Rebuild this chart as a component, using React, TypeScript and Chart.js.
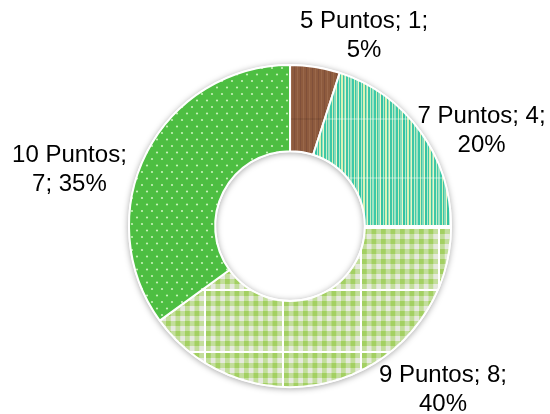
import React, { useEffect, useRef } from "react";
import { Chart, registerables } from "chart.js";

Chart.register(...registerables);

// ---- data ----
const categories = ["5 Puntos", "7 Puntos", "9 Puntos", "10 Puntos"];
const counts = [1, 4, 8, 7];
// how many label tokens ("name;", "count;", "pct%") go on the first line
const firstLineTokens = [2, 2, 2, 1];

// ---- style / layout ----
// label block centre relative to the doughnut centre, in units of outer radius
const LABEL_POS: [number, number][] = [
  [0.46, -1.18],
  [1.19, -0.59],
  [0.95, 1.02],
  [-1.37, -0.35],
];
const FONT = '24px "Liberation Sans", Arial, sans-serif';
const LINE_H = 29;

function makePattern(
  ctx: CanvasRenderingContext2D,
  w: number,
  h: number,
  draw: (g: CanvasRenderingContext2D) => void,
  ox = 0,
  oy = 0
): CanvasPattern | string {
  const c = document.createElement("canvas");
  c.width = w;
  c.height = h;
  const g = c.getContext("2d")!;
  draw(g);
  const p = ctx.createPattern(c, "repeat");
  if (!p) return "#888";
  try {
    p.setTransform(new DOMMatrix().translate(ox, oy));
  } catch (e) {}
  return p;
}

function brownPattern(ctx: CanvasRenderingContext2D) {
  return makePattern(ctx, 6, 59, (g) => {
    g.fillStyle = "#8e5b3e";
    g.fillRect(0, 0, 6, 59);
    g.fillStyle = "#80503a";
    g.fillRect(0, 0, 1, 59);
    g.fillStyle = "#9a684b";
    g.fillRect(3, 0, 1, 59);
    g.fillStyle = "rgba(0,0,0,0.07)";
    g.fillRect(0, 0, 6, 2);
  });
}

function tealPattern(ctx: CanvasRenderingContext2D) {
  const seq: [string, number][] = [
    ["#3cc9a8", 2], ["#d6f1b6", 1], ["#40c4a4", 1], ["#86dcbd", 2],
    ["#eef6c6", 1], ["#35c3a2", 2], ["#b5e9cc", 1], ["#3fcaa9", 1],
    ["#d9f2b4", 2], ["#38c5a3", 1], ["#93dfc0", 1], ["#e8f5c3", 1],
    ["#3ec7a6", 2], ["#c7eec5", 1], ["#44cba9", 1], ["#a1e3c2", 2],
  ];
  const W = seq.reduce((s, [, w]) => s + w, 0);
  return makePattern(ctx, W, 59, (g) => {
    let x = 0;
    for (const [col, w] of seq) {
      g.fillStyle = col;
      g.fillRect(x, 0, w, 59);
      x += w;
    }
    g.fillStyle = "rgba(255,255,255,0.25)";
    g.fillRect(0, 0, W, 2);
  });
}

function checkPattern(ctx: CanvasRenderingContext2D) {
  const W = 78, H = 62, px = 9.5, py = 10;
  return makePattern(
    ctx,
    W,
    H,
    (g) => {
      g.fillStyle = "#e6e9de";
      g.fillRect(0, 0, W, H);
      g.fillStyle = "#c3de9c";
      for (let i = 0; i < 8; i++) g.fillRect(2 + i * px, 0, px / 2, H);
      for (let j = 0; j < 6; j++) g.fillRect(0, 2 + j * py, W, py / 2);
      g.fillStyle = "#a3d062";
      for (let i = 0; i < 8; i++)
        for (let j = 0; j < 6; j++) g.fillRect(2 + i * px, 2 + j * py, px / 2, py / 2);
      g.fillStyle = "#ffffff";
      g.fillRect(0, 0, 2, H);
      g.fillRect(0, 0, W, 2);
    },
    48,
    41
  );
}

function dotPattern(ctx: CanvasRenderingContext2D) {
  return makePattern(ctx, 10, 13, (g) => {
    g.fillStyle = "#4dbe42";
    g.fillRect(0, 0, 10, 13);
    g.fillStyle = "#c6f1b8";
    for (const [x, y] of [[2, 3], [7, 9.5]]) {
      g.beginPath();
      g.arc(x, y, 1.1, 0, Math.PI * 2);
      g.fill();
    }
  });
}

const shadowPlugin = {
  id: "ringShadow",
  beforeDatasetsDraw(chart: any) {
    const arc = chart.getDatasetMeta(0).data[0];
    if (!arc) return;
    const { x, y, outerRadius, innerRadius } = arc.getProps(
      ["x", "y", "outerRadius", "innerRadius"],
      true
    );
    const ctx = chart.ctx;
    ctx.save();
    ctx.shadowColor = "rgba(0,0,0,0.35)";
    ctx.shadowBlur = 6;
    ctx.shadowOffsetY = 1;
    ctx.beginPath();
    ctx.arc(x, y, outerRadius + 1, 0, Math.PI * 2);
    ctx.arc(x, y, Math.max(innerRadius - 1, 0), 0, Math.PI * 2, true);
    ctx.fillStyle = "#ffffff";
    ctx.fill();
    ctx.restore();
  },
};

const labelPlugin = {
  id: "sliceLabels",
  afterDatasetsDraw(chart: any) {
    const meta = chart.getDatasetMeta(0);
    const data: number[] = chart.data.datasets[0].data;
    const total = data.reduce((s, v) => s + v, 0);
    const ctx = chart.ctx;
    ctx.save();
    ctx.font = FONT;
    ctx.fillStyle = "#000000";
    ctx.textAlign = "center";
    ctx.textBaseline = "middle";
    meta.data.forEach((arc: any, i: number) => {
      const { x, y, outerRadius } = arc.getProps(["x", "y", "outerRadius"], true);
      const pct = Math.round((data[i] / total) * 100);
      const tokens = [`${chart.data.labels[i]};`, `${data[i]};`, `${pct}%`];
      const n = firstLineTokens[i];
      const lines = [tokens.slice(0, n).join(" "), tokens.slice(n).join(" ")];
      const cx = x + LABEL_POS[i][0] * outerRadius;
      const cy = y + LABEL_POS[i][1] * outerRadius;
      lines.forEach((t, k) => {
        ctx.fillText(t, cx, cy + (k - (lines.length - 1) / 2) * LINE_H);
      });
    });
    ctx.restore();
  },
};

export default function App() {
  const ref = useRef<HTMLCanvasElement | null>(null);
  useEffect(() => {
    const canvas = ref.current!;
    const ctx = canvas.getContext("2d")!;
    const fills = [brownPattern(ctx), tealPattern(ctx), checkPattern(ctx), dotPattern(ctx)];
    const chart = new Chart(canvas, {
      type: "doughnut",
      data: {
        labels: categories,
        datasets: [
          {
            data: counts,
            backgroundColor: fills as any,
            borderColor: "#ffffff",
            borderWidth: 2,
            offset: 0,
            hoverOffset: 0,
          } as any,
        ],
      },
      options: {
        responsive: false,
        animation: false,
        events: [],
        cutout: "46.5%",
        layout: { padding: { top: 64, bottom: 26, left: 128, right: 98 } },
        plugins: { legend: { display: false }, tooltip: { enabled: false } },
      },
      plugins: [shadowPlugin, labelPlugin],
    });
    return () => chart.destroy();
  }, []);
  return (
    <div style={{ position: "fixed", left: 0, top: 0, width: 550, height: 414, background: "#fff" }}>
      <canvas ref={ref} width={550} height={414} style={{ display: "block" }} />
    </div>
  );
}
